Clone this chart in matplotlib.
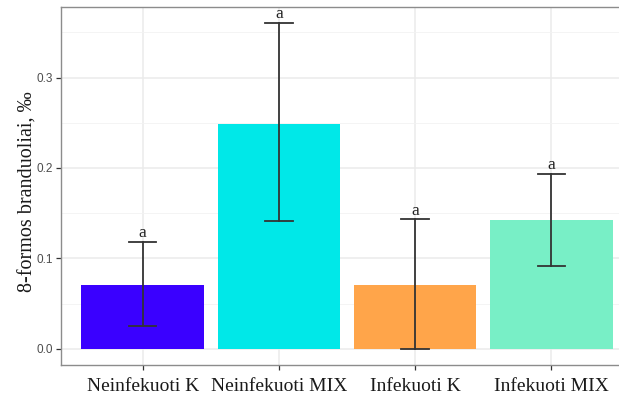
import matplotlib
matplotlib.use("Agg")
import matplotlib.pyplot as plt
from matplotlib.ticker import MultipleLocator

categories = ["Neinfekuoti K", "Neinfekuoti MIX", "Infekuoti K", "Infekuoti MIX"]
means = [0.0706, 0.249, 0.0706, 0.142]
err_low = [0.025, 0.141, 0.0, 0.092]
err_high = [0.118, 0.360, 0.143, 0.193]
letters = ["a", "a", "a", "a"]
colors = ["#3A00FF", "#00E8E8", "#FFA54A", "#78EFC6"]
y_ticks = [0.0, 0.1, 0.2, 0.3]
y_label = "8-formos branduoliai, ‰"

W, H = 619, 395
fig = plt.figure(figsize=(W / 100, H / 100), dpi=100)
left, right, top, bottom = 61, 633, 7, 365
ax = fig.add_axes([left / W, 1 - bottom / H, (right - left) / W, (bottom - top) / H])

x = list(range(len(categories)))
ax.bar(x, means, width=0.9, color=colors, zorder=2)
for xi, lo, hi, m in zip(x, err_low, err_high, means):
    ax.plot([xi, xi], [lo, hi], color="#333333", lw=1.3, zorder=3)
    ax.plot([xi - 0.1, xi + 0.1], [lo, lo], color="#333333", lw=1.3, zorder=3)
    ax.plot([xi - 0.1, xi + 0.1], [hi, hi], color="#333333", lw=1.3, zorder=3)
for xi, hi, t in zip(x, err_high, letters):
    ax.text(xi, hi + 0.001, t, ha="center", va="bottom", family="Liberation Serif",
            fontsize=12.5, color="#222222", zorder=4)

ax.set_xlim(-0.6, 3.6)
ax.set_ylim(-0.018, 0.378)
ax.set_xticks(x)
ax.set_xticklabels(categories, family="Liberation Serif", fontsize=14, color="#1a1a1a")
ax.set_yticks(y_ticks)
ax.set_yticklabels([f"{v:.1f}" for v in y_ticks], family="Liberation Sans", fontsize=8.5, color="#4d4d4d")
ax.yaxis.set_minor_locator(MultipleLocator(0.05))
ax.grid(True, which="major", color="#EBEBEB", lw=1.1, zorder=0)
ax.grid(True, which="minor", axis="y", color="#F2F2F2", lw=0.6, zorder=0)
ax.set_axisbelow(True)
ax.tick_params(axis="both", which="major", length=3.5, width=0.9, color="#333333", pad=2.5)
ax.tick_params(axis="x", which="major", pad=6)
ax.tick_params(axis="y", which="minor", length=0)
for s in ax.spines.values():
    s.set_color("#8c8c8c")
    s.set_linewidth(1.0)
ax.set_ylabel(y_label, family="Liberation Serif", fontsize=14.5, color="#1a1a1a",
              va="center")
ax.yaxis.set_label_coords(-0.058, 0.483)

fig.savefig("out.png", dpi=100)
